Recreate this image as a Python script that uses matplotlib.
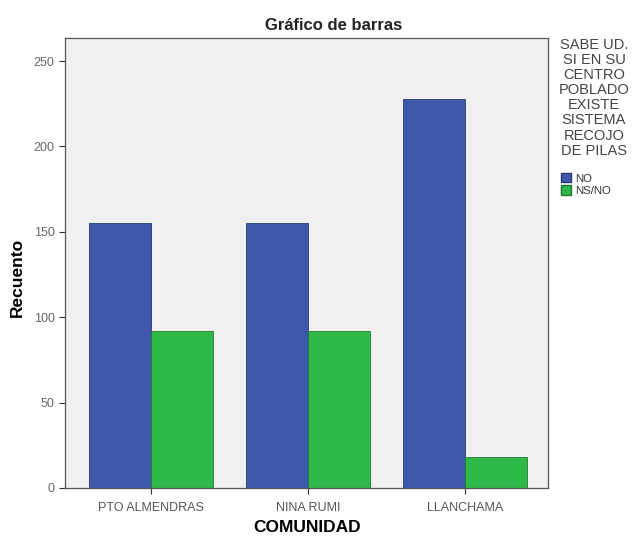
import matplotlib
matplotlib.use("Agg")
import matplotlib.pyplot as plt
import numpy as np
from matplotlib.patches import Patch

plt.rcParams['font.family'] = ['Liberation Sans', 'DejaVu Sans']

categories = ["PTO ALMENDRAS", "NINA RUMI", "LLANCHAMA"]
series_names = ["NO", "NS/NO"]
no_counts = [155, 155, 228]
nsno_counts = [92, 92, 18]
y_ticks = [0, 50, 100, 150, 200, 250]

blue = "#3E58AC"
green = "#2EB848"

W, H = 633, 537
fig = plt.figure(figsize=(W / 100, H / 100), dpi=100)
ax = fig.add_axes([65 / W, 1 - 488 / H, (548 - 65) / W, (488 - 38) / H])
ax.set_facecolor("#F0F0F0")

x = np.arange(len(categories))
w = 0.395
ax.bar(x - w / 2, no_counts, w, color=blue, edgecolor="#2A3A70", linewidth=0.6, label=series_names[0])
ax.bar(x + w / 2, nsno_counts, w, color=green, edgecolor="#1F7A30", linewidth=0.6, label=series_names[1])

ax.set_xlim(-0.548, 2.529)
ax.set_ylim(0, 263.5)
ax.set_yticks(y_ticks)
ax.set_yticklabels([str(v) for v in y_ticks], fontsize=9, color="#666666")
ax.set_xticks(x)
ax.set_xticklabels(categories, fontsize=9, color="#555555")
ax.tick_params(axis="both", length=4, width=0.8, color="#333333")
ax.tick_params(axis="x", pad=6)
for s in ax.spines.values():
    s.set_color("#555555")
    s.set_linewidth(0.9)

ax.set_ylabel("Recuento", fontsize=12.5, fontweight="bold")
ax.yaxis.set_label_coords((17 - 65) / (548 - 65), (488 - 277) / (488 - 38))
ax.set_xlabel("COMUNIDAD", fontsize=12.5, fontweight="bold")
ax.xaxis.set_label_coords((307 - 65) / (548 - 65), -(528 - 488) / (488 - 38))
ax.xaxis.label.set_verticalalignment("center")
ax.yaxis.label.set_verticalalignment("center")

fig.text(334 / W, 1 - 25 / H, "Gráfico de barras", ha="center", va="center",
         fontsize=12, fontweight="bold", color="#222222")

# Legend heading as its own text block, entries below it
fig.text(594 / W, 1 - 38 / H,
         "SABE UD.\nSI EN SU\nCENTRO\nPOBLADO\nEXISTE\nSISTEMA\nRECOJO\nDE PILAS",
         ha="center", va="top", fontsize=10.5, color="#444444",
         linespacing=1.1, multialignment="center")

handles = [Patch(facecolor=blue, edgecolor="#2A3A70", label=series_names[0]),
           Patch(facecolor=green, edgecolor="#1F7A30", label=series_names[1])]
leg = fig.legend(handles=handles,
                 loc="upper left", bbox_to_anchor=(553 / W, 1 - 165 / H),
                 frameon=False, fontsize=8.2,
                 handlelength=0.9, handleheight=0.9, handletextpad=0.3,
                 labelspacing=0.15, borderpad=0.2)
for t in leg.get_texts():
    t.set_color("#333333")

fig.savefig("out.png", dpi=100)
